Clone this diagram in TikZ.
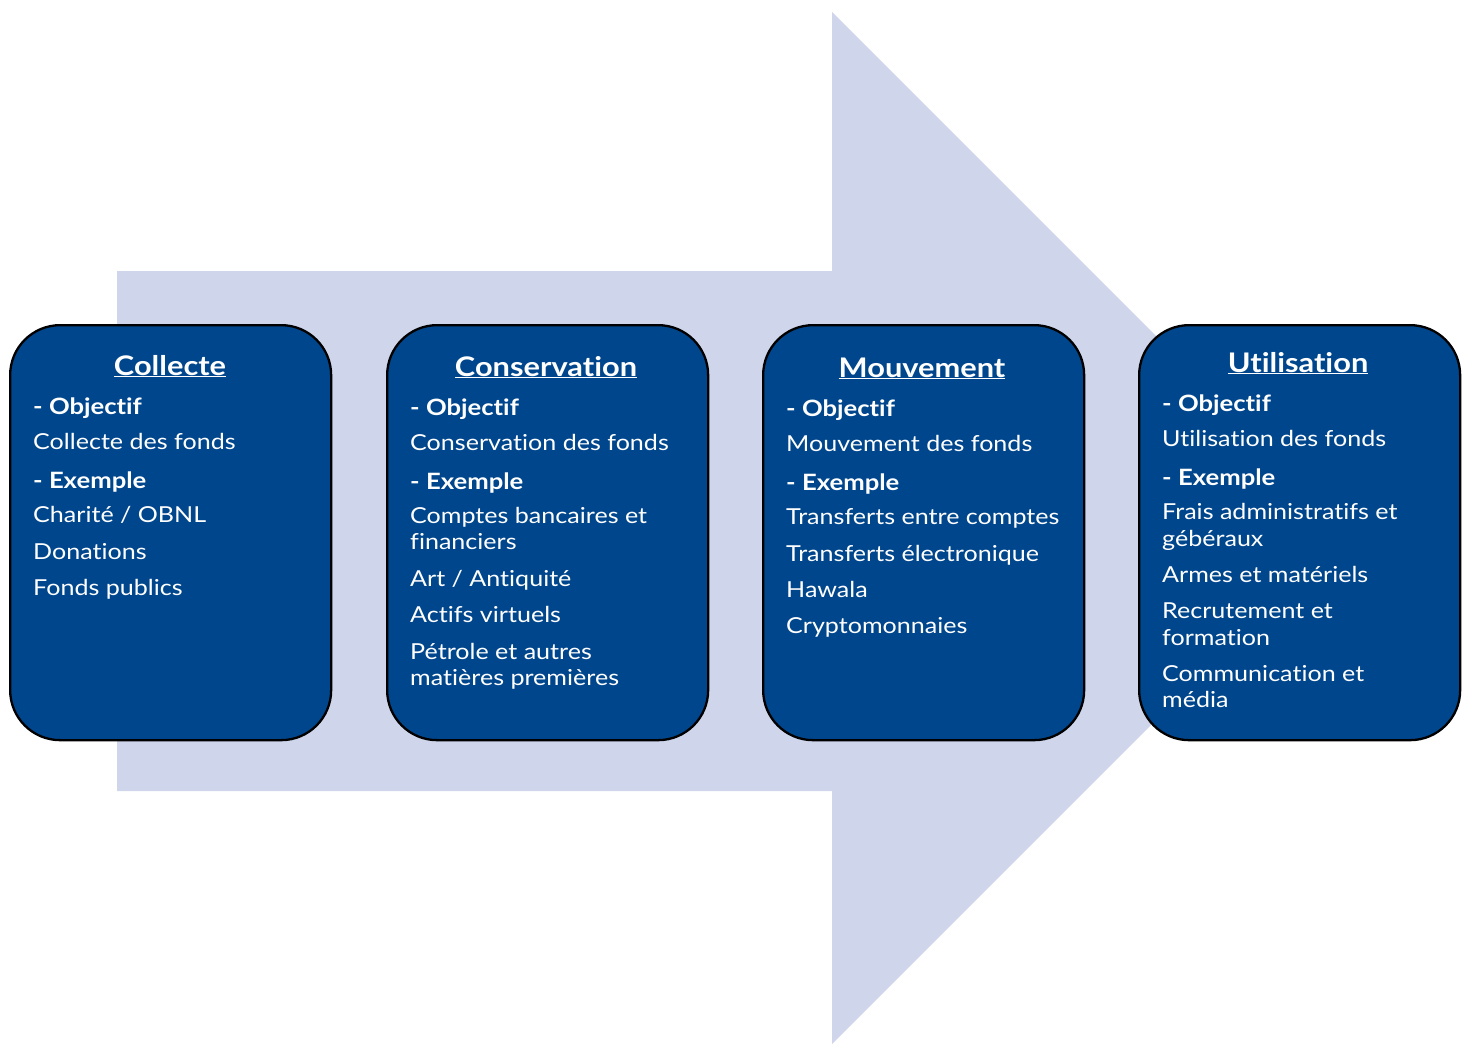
\documentclass[tikz,border=0pt]{standalone}
\usepackage{fontspec}
\setmainfont{Lato}[FakeStretch=1.14,Ligatures={NoCommon,NoRare,NoContextual}]
\definecolor{boxblue}{RGB}{0,70,140}
\definecolor{arrowfill}{RGB}{207,213,234}
\begin{document}
\begin{tikzpicture}[x=1pt,y=-1pt,
 box/.style={draw=black, line width=2.3pt, fill=boxblue, rounded corners=50pt, minimum width=321, minimum height=415, anchor=north west, inner sep=0},
 ttl/.style={text=white, font=\fontsize{27}{30}\selectfont\bfseries, anchor=base, inner sep=0},
 hd/.style={text=white, font=\fontsize{22.5}{26}\selectfont\bfseries, anchor=base west, inner sep=0},
 ln/.style={text=white, font=\fontsize{22}{26}\selectfont, anchor=base west, inner sep=0}]
\useasboundingbox (0,0) rectangle (1465,1044);
\fill[arrowfill] (117,271) -- (832,271) -- (832,12) -- (1348,528) -- (832,1044) -- (832,791) -- (117,791) -- cycle;
% boxes
\node[box] (b1) at (9,324) {};
\node[box] (b2) at (386,324) {};
\node[box] (b3) at (762,324) {};
\node[box] (b4) at (1138,324) {};
% box 1
\node[ttl] (t1) at (170,375) {\underline{Collecte}};
\node[hd] (b1h1) at (33,414) {- Objectif};
\node[ln] (b1l1) at (33,449) {Collecte des fonds};
\node[hd] (b1h2) at (33,488) {- Exemple};
\node[ln] (b1l2) at (33,522) {Charité / OBNL};
\node[ln] (b1l3) at (33,559) {Donations};
\node[ln] (b1l4) at (33,595) {Fonds publics};
% box 2
\node[ttl] (t2) at (546,376) {\underline{Conservation}};
\node[hd] (b2h1) at (410,415) {- Objectif};
\node[ln] (b2l1) at (410,450) {Conservation des fonds};
\node[hd] (b2h2) at (410,489) {- Exemple};
\node[ln] (b2l2) at (410,523) {Comptes bancaires et};
\node[ln] (b2l3) at (410,549) {financiers};
\node[ln] (b2l4) at (410,586) {Art / Antiquité};
\node[ln] (b2l5) at (410,622) {Actifs virtuels};
\node[ln] (b2l6) at (410,659) {Pétrole et autres};
\node[ln] (b2l7) at (410,685) {matières premières};
% box 3
\node[ttl] (t3) at (922,377) {\underline{Mouvement}};
\node[hd] (b3h1) at (786,416) {- Objectif};
\node[ln] (b3l1) at (786,451) {Mouvement des fonds};
\node[hd] (b3h2) at (786,490) {- Exemple};
\node[ln] (b3l2) at (786,524) {Transferts entre comptes};
\node[ln] (b3l3) at (786,561) {Transferts électronique};
\node[ln] (b3l4) at (786,597) {Hawala};
\node[ln] (b3l5) at (786,633) {Cryptomonnaies};
% box 4
\node[ttl] (t4) at (1298,372) {\underline{Utilisation}};
\node[hd] (b4h1) at (1162,411) {- Objectif};
\node[ln] (b4l1) at (1162,446) {Utilisation des fonds};
\node[hd] (b4h2) at (1162,485) {- Exemple};
\node[ln] (b4l2) at (1162,519) {Frais administratifs et};
\node[ln] (b4l3) at (1162,546) {gébéraux};
\node[ln] (b4l4) at (1162,582) {Armes et matériels};
\node[ln] (b4l5) at (1162,618) {Recrutement et};
\node[ln] (b4l6) at (1162,645) {formation};
\node[ln] (b4l7) at (1162,681) {Communication et};
\node[ln] (b4l8) at (1162,707) {média};
\end{tikzpicture}
\end{document}
